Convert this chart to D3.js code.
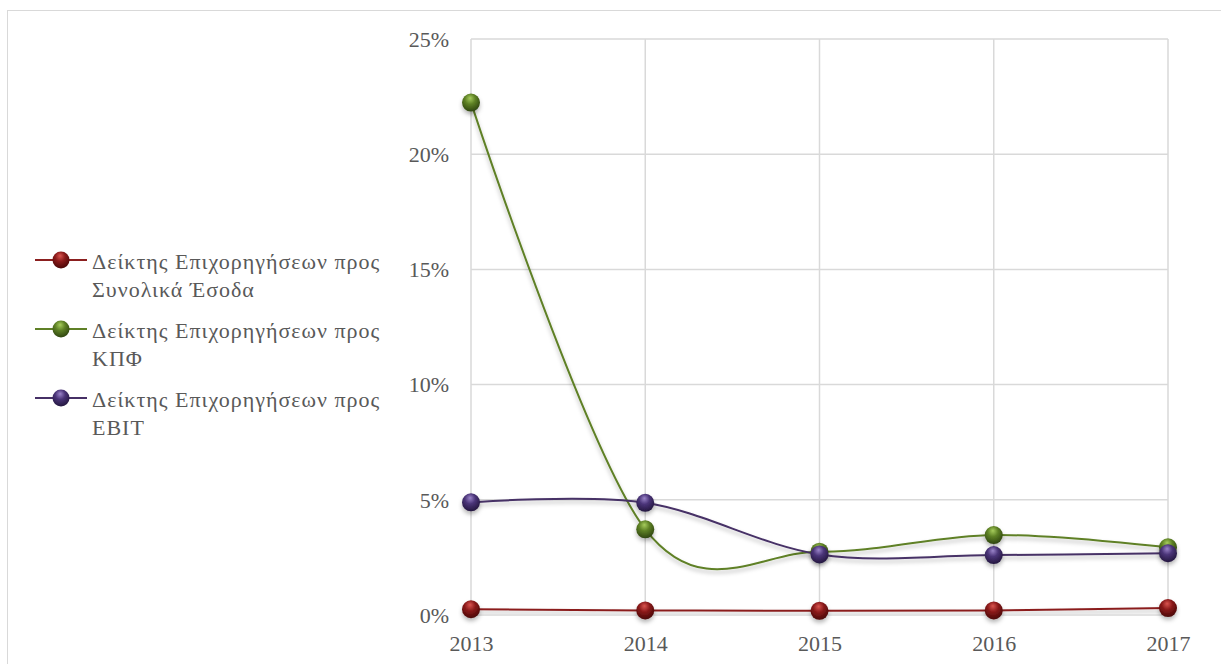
<!DOCTYPE html>
<html>
<head>
<meta charset="utf-8">
<script src="https://cdn.jsdelivr.net/npm/d3@7"></script>
<style>
  html, body { margin: 0; padding: 0; background: #fff; }
  svg { display: block; }
</style>
</head>
<body>
<svg id="chart" width="1221" height="664"></svg>
<script>
// Years on the horizontal axis
const years = ["2013", "2014", "2015", "2016", "2017"];
// Ratio series (in percent)
const revenueRatio = [0.25, 0.2, 0.18, 0.2, 0.3];
const equityRatio = [22.24, 3.72, 2.75, 3.47, 2.94];
const ebitRatio = [4.89, 4.87, 2.63, 2.6, 2.68];
// Legend labels (two lines each)
const seriesNames = [
  ["Δείκτης Επιχορηγήσεων προς", "Συνολικά Έσοδα"],
  ["Δείκτης Επιχορηγήσεων προς", "ΚΠΦ"],
  ["Δείκτης Επιχορηγήσεων προς", "EBIT"]
];
// Y-axis ticks
const yTicks = [0, 5, 10, 15, 20, 25];

const FONT = "'Liberation Serif', 'Times New Roman', serif";
const TEXT_COLOR = "#595959";

const series = [
  { name: seriesNames[0], values: revenueRatio, base: "#8b1a1a", light: "#d9544f", dark: "#4a0707", line: "#8b1f1f" },
  { name: seriesNames[1], values: equityRatio, base: "#5e8125", light: "#a6cc5c", dark: "#2f4510", line: "#5f8026" },
  { name: seriesNames[2], values: ebitRatio, base: "#4a3478", light: "#9a84c9", dark: "#24173f", line: "#463066" }
];

const svg = d3.select("#chart");
const defs = svg.append("defs");

// Soft drop shadow under lines and markers
const sh = defs.append("filter").attr("id", "shadow")
  .attr("x", "-20%").attr("y", "-50%").attr("width", "140%").attr("height", "250%");
sh.append("feDropShadow").attr("dx", 0).attr("dy", 3).attr("stdDeviation", 2)
  .attr("flood-color", "#000").attr("flood-opacity", 0.28);

// Glossy sphere gradients
series.forEach((s, i) => {
  const g = defs.append("radialGradient").attr("id", "ball" + i)
    .attr("cx", "45%").attr("cy", "35%").attr("r", "65%").attr("fx", "45%").attr("fy", "25%");
  g.append("stop").attr("offset", "0%").attr("stop-color", s.light);
  g.append("stop").attr("offset", "45%").attr("stop-color", s.base);
  g.append("stop").attr("offset", "100%").attr("stop-color", s.dark);
});

// Chart frame
svg.append("rect").attr("x", 7.5).attr("y", 10.5).attr("width", 1230).attr("height", 700)
  .attr("fill", "none").attr("stroke", "#d9d9d9").attr("stroke-width", 1);

const x = d3.scalePoint().domain(years).range([471, 1168]);
const y = d3.scaleLinear().domain([0, 25]).range([615, 39]);

// Gridlines
const grid = svg.append("g").attr("stroke", "#d9d9d9").attr("stroke-width", 1.5);
grid.selectAll("line.h").data(yTicks).join("line").attr("class", "h")
  .attr("x1", x.range()[0]).attr("x2", x.range()[1])
  .attr("y1", d => y(d)).attr("y2", d => y(d));
grid.selectAll("line.v").data(years).join("line").attr("class", "v")
  .attr("x1", d => x(d)).attr("x2", d => x(d))
  .attr("y1", y(25)).attr("y2", y(0));

// Axes (labels only)
const yAxis = svg.append("g").attr("transform", "translate(449,0)")
  .call(d3.axisLeft(y).tickValues(yTicks).tickFormat(d => d + "%").tickSize(0).tickPadding(0));
yAxis.select(".domain").remove();
yAxis.selectAll("text").attr("dy", "0.33em")
  .style("font-family", FONT).style("font-size", "22px").style("fill", TEXT_COLOR);

const xAxis = svg.append("g").attr("transform", "translate(0,651)")
  .call(d3.axisBottom(x).tickSize(0).tickPadding(0));
xAxis.select(".domain").remove();
xAxis.selectAll("text").attr("y", 0).attr("dy", 0)
  .style("font-family", FONT).style("font-size", "22px").style("fill", TEXT_COLOR);

// Smoothed lines
const line = d3.line()
  .x((d, i) => x(years[i]))
  .y(d => y(d))
  .curve(d3.curveCardinal.tension(0));

const plot = svg.append("g");
series.forEach((s, i) => {
  plot.append("path").datum(s.values)
    .attr("d", line).attr("fill", "none")
    .attr("stroke", s.line).attr("stroke-width", 2)
    .attr("filter", "url(#shadow)");
});
series.forEach((s, i) => {
  plot.append("g").selectAll("circle").data(s.values).join("circle")
    .attr("cx", (d, j) => x(years[j])).attr("cy", d => y(d)).attr("r", 9)
    .attr("fill", "url(#ball" + i + ")").attr("filter", "url(#shadow)");
});

// Legend
const legend = svg.append("g");
series.forEach((s, i) => {
  const cy = 260 + i * 69;
  const g = legend.append("g");
  g.append("line").attr("x1", 35).attr("x2", 87).attr("y1", cy).attr("y2", cy)
    .attr("stroke", s.line).attr("stroke-width", 2);
  g.append("circle").attr("cx", 61).attr("cy", cy).attr("r", 8.5)
    .attr("fill", "url(#ball" + i + ")");
  s.name.forEach((t, k) => {
    g.append("text").attr("x", 92).attr("y", cy + 9 + k * 28)
      .style("font-family", FONT).style("font-size", "22px").style("fill", TEXT_COLOR)
      .style("letter-spacing", "1px").text(t);
  });
});
</script>
</body>
</html>
